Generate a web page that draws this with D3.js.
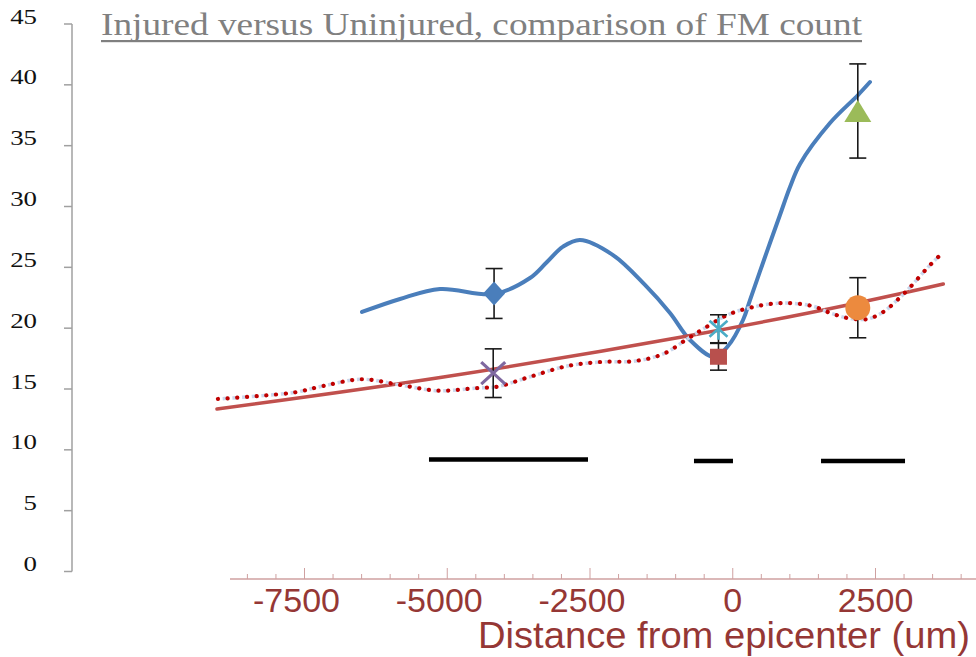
<!DOCTYPE html>
<html><head><meta charset="utf-8">
<script src="https://cdn.jsdelivr.net/npm/d3@7"></script>
<style>html,body{margin:0;padding:0;background:#fff;overflow:hidden}</style>
</head><body>
<svg id="chart" width="976" height="657"></svg>
<script>
// ---------- DATA ----------
const titleText = "Injured versus Uninjured, comparison of FM count";
const xAxisTitle = "Distance from epicenter (um)";
const yTicks = [0, 5, 10, 15, 20, 25, 30, 35, 40, 45];
const xMajorTicks = [-7500, -5000, -2500, 0, 2500, 5000];
const xMinorTicks = [-8500, -8000, -7000, -6500, -6000, -5500, -4500, -4000, -3500, -3000,
                     -2000, -1500, -1000, -500, 500, 1000, 1500, 2000, 3000, 3500, 4000, 4500];

// Injured (smoothed blue line)  [distance, FM count]
const injuredX = [-6493, -5827, -5127, -4181, -3551, -3253, -2973, -2675, -2097, -1537, -1099, -749, -328, -83, 180, 302, 565, 827, 1003, 1178, 1703, 2193, 2403];
const injuredY = [21.33, 22.40, 23.22, 22.81, 24.12, 25.44, 26.70, 27.25, 26.01, 23.55, 21.25, 19.03, 17.63, 18.53, 20.67, 22.31, 25.85, 29.30, 31.60, 33.50, 36.86, 39.16, 40.23];

// Uninjured trend (solid red)
const trendX = [-9033, -5123, -744, 2180, 3687];
const trendY = [13.36, 15.95, 19.40, 22.07, 23.63];

// Uninjured polynomial trend (dotted red)
const polyX = [-9016, -8333, -7662, -7172, -6489, -5823, -5158, -4475, -4124, -3546, -2898, -2320, -1708, -1217, -797, -517, -96, 359, 884, 1392, 1708, 2005, 2356, 2636, 2881, 3109, 3406, 3651];
const polyY = [14.18, 14.42, 14.73, 15.25, 15.80, 15.33, 14.86, 15.08, 15.19, 16.01, 16.89, 17.22, 17.30, 17.88, 19.11, 19.93, 21.08, 21.74, 22.07, 21.82, 21.25, 20.84, 20.75, 21.33, 22.31, 23.38, 24.94, 26.10];

// Point markers with error bars
const markerShape = ["diamond", "x", "asterisk", "square", "triangle", "circle"];
const markerX     = [-4180, -4195, -250, -250, 2190, 2190];
const markerY     = [22.85, 16.30, 19.95, 17.65, 37.85, 21.68];
const markerErr   = [2.05, 2.00, 1.15, 1.10, 3.87, 2.47];
const markerColor = ["#4a7ebb", "#7f68a0", "#4bacc6", "#b8504d", "#9bbb59", "#ec8a3e"];

// Significance bars [start, end, level]
const sigStart = [-5320, -679, 1546];
const sigEnd   = [-2535, 4, 3017];
const sigLevel = [9.2, 9.08, 9.08];

// ---------- SCALES ----------
const svg = d3.select("#chart");
const x = d3.scaleLinear().domain([-7500, 2500]).range([304.5, 875.5]);
const y = d3.scaleLinear().domain([0, 45]).range([571.5, 24]);

// ---------- TITLE ----------
svg.append("text")
  .attr("x", 101).attr("y", 34.5)
  .attr("font-family", "'Liberation Serif', 'Times New Roman', serif")
  .attr("font-size", 32).attr("fill", "#808080")
  .attr("textLength", 761).attr("lengthAdjust", "spacingAndGlyphs")
  .text(titleText);
svg.append("rect").attr("x", 101).attr("y", 40).attr("width", 761).attr("height", 2.2).attr("fill", "#808080");

// ---------- Y AXIS ----------
const yAxisX = 72;
svg.append("line").attr("x1", yAxisX).attr("x2", yAxisX).attr("y1", y(45)).attr("y2", y(0))
  .attr("stroke", "#a0a0a0").attr("stroke-width", 1.5);
const yg = svg.append("g");
yg.selectAll("line").data(yTicks).join("line")
  .attr("x1", 64).attr("x2", yAxisX).attr("y1", d => y(d)).attr("y2", d => y(d))
  .attr("stroke", "#a0a0a0").attr("stroke-width", 1.5);
yg.selectAll("text").data(yTicks).join("text")
  .attr("transform", d => `translate(37,${y(d) - 0.5}) scale(1.28,1)`)
  .attr("text-anchor", "end")
  .attr("font-family", "'Liberation Serif', 'Times New Roman', serif")
  .attr("font-size", 21).attr("fill", "#111")
  .text(d => d);

// ---------- X AXIS ----------
const xAxisY = 579;
const axisCol = "#cfa0a0";
svg.append("line").attr("x1", 230).attr("x2", 976).attr("y1", xAxisY).attr("y2", xAxisY)
  .attr("stroke", axisCol).attr("stroke-width", 1.5);
const xg = svg.append("g");
xg.selectAll("line.minor").data(xMinorTicks).join("line").attr("class", "minor")
  .attr("x1", d => x(d)).attr("x2", d => x(d)).attr("y1", xAxisY).attr("y2", xAxisY - 5)
  .attr("stroke", axisCol).attr("stroke-width", 1);
xg.selectAll("line.major").data(xMajorTicks).join("line").attr("class", "major")
  .attr("x1", d => x(d)).attr("x2", d => x(d)).attr("y1", xAxisY).attr("y2", xAxisY - 11)
  .attr("stroke", axisCol).attr("stroke-width", 1);
xg.selectAll("text").data(xMajorTicks).join("text")
  .attr("x", d => x(d)).attr("y", 612)
  .attr("dx", d => d < 0 ? -8 : 0)
  .attr("text-anchor", "middle")
  .attr("font-family", "'Liberation Sans', Arial, sans-serif")
  .attr("font-size", 34).attr("fill", "#953735")
  .text(d => d);
svg.append("text")
  .attr("x", 478).attr("y", 648)
  .attr("font-family", "'Liberation Sans', Arial, sans-serif")
  .attr("font-size", 37).attr("fill", "#953735")
  .attr("textLength", 492).attr("lengthAdjust", "spacingAndGlyphs")
  .text(xAxisTitle);

// ---------- SIGNIFICANCE BARS ----------
svg.append("g").selectAll("line").data(sigStart).join("line")
  .attr("x1", (d, i) => x(sigStart[i])).attr("x2", (d, i) => x(sigEnd[i]))
  .attr("y1", (d, i) => y(sigLevel[i])).attr("y2", (d, i) => y(sigLevel[i]))
  .attr("stroke", "#000").attr("stroke-width", 4.5);

// ---------- LINES ----------
const injured = injuredX.map((v, i) => [v, injuredY[i]]);
const trend = trendX.map((v, i) => [v, trendY[i]]);
const poly = polyX.map((v, i) => [v, polyY[i]]);

svg.append("path").datum(injured)
  .attr("d", d3.line().x(d => x(d[0])).y(d => y(d[1])).curve(d3.curveCatmullRom.alpha(0.5)))
  .attr("fill", "none").attr("stroke", "#4a7ebb").attr("stroke-width", 4).attr("stroke-linecap", "round");

svg.append("path").datum(trend)
  .attr("d", d3.line().x(d => x(d[0])).y(d => y(d[1])).curve(d3.curveNatural))
  .attr("fill", "none").attr("stroke", "#c0504d").attr("stroke-width", 3.5).attr("stroke-linecap", "round");

const polyLine = d3.line().x(d => x(d[0])).y(d => y(d[1])).curve(d3.curveCatmullRom.alpha(0.5));
svg.append("path").datum(poly).attr("d", polyLine)
  .attr("fill", "none").attr("stroke", "#cbd7ec").attr("stroke-width", 3.5)
  .attr("stroke-dasharray", "4,5.7").attr("stroke-dashoffset", -4.8);
svg.append("path").datum(poly).attr("d", polyLine)
  .attr("fill", "none").attr("stroke", "#c00000").attr("stroke-width", 4.2)
  .attr("stroke-linecap", "round").attr("stroke-dasharray", "0.1,9.6");

// ---------- ERROR BARS ----------
const eg = svg.append("g").attr("stroke", "#1a1a1a").attr("stroke-width", 1.6);
markerX.forEach((mx, i) => {
  const cx = x(mx), top = y(markerY[i] + markerErr[i]), bot = y(markerY[i] - markerErr[i]);
  eg.append("line").attr("x1", cx).attr("x2", cx).attr("y1", top).attr("y2", bot);
  eg.append("line").attr("x1", cx - 8.5).attr("x2", cx + 8.5).attr("y1", top).attr("y2", top);
  eg.append("line").attr("x1", cx - 8.5).attr("x2", cx + 8.5).attr("y1", bot).attr("y2", bot);
});

// ---------- MARKERS ----------
const mg = svg.append("g");
markerShape.forEach((s, i) => {
  const cx = x(markerX[i]), cy = y(markerY[i]), c = markerColor[i];
  if (s === "diamond") {
    mg.append("path").attr("d", `M${cx},${cy - 12}L${cx + 11},${cy}L${cx},${cy + 12}L${cx - 11},${cy}Z`).attr("fill", c);
  } else if (s === "x") {
    mg.append("path").attr("d", `M${cx - 12},${cy - 11}L${cx + 12},${cy + 11}M${cx - 12},${cy + 11}L${cx + 12},${cy - 11}`)
      .attr("stroke", c).attr("stroke-width", 3.2);
  } else if (s === "asterisk") {
    mg.append("path").attr("d", `M${cx - 9},${cy - 8}L${cx + 9},${cy + 8}M${cx - 9},${cy + 8}L${cx + 9},${cy - 8}M${cx},${cy - 11}L${cx},${cy + 11}`)
      .attr("stroke", c).attr("stroke-width", 2.6);
  } else if (s === "square") {
    mg.append("rect").attr("x", cx - 8.5).attr("y", cy - 8).attr("width", 17).attr("height", 16).attr("fill", c);
  } else if (s === "triangle") {
    mg.append("path").attr("d", `M${cx},${cy - 11}L${cx + 13.5},${cy + 11}L${cx - 13.5},${cy + 11}Z`).attr("fill", c);
  } else if (s === "circle") {
    mg.append("circle").attr("cx", cx).attr("cy", cy).attr("r", 12.5).attr("fill", c);
  }
});
</script>
</body></html>
